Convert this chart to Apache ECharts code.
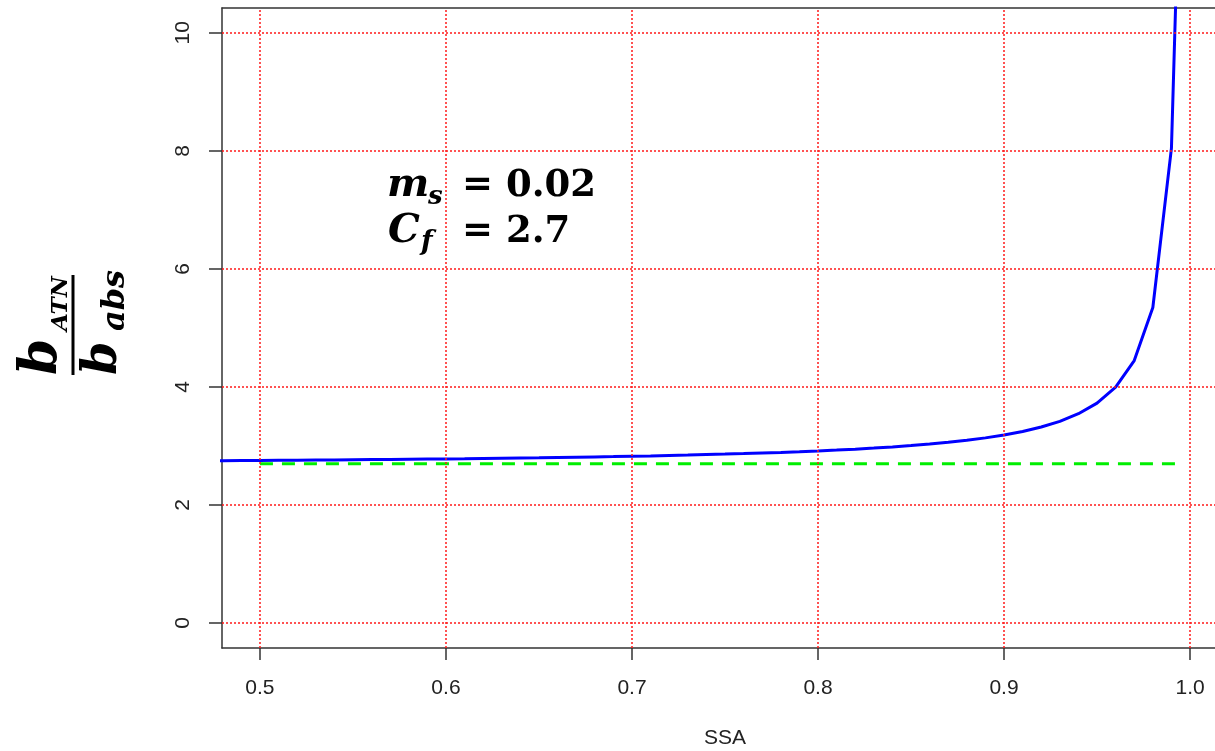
<!DOCTYPE html>
<html>
<head>
<meta charset="utf-8">
<script src="https://cdn.jsdelivr.net/npm/echarts@6/dist/echarts.min.js"></script>
<style>
html,body{margin:0;padding:0;background:#fff;}
#chart{width:1215px;height:751px;}
</style>
</head>
<body>
<div id="chart"></div>
<script>
// SSA values (x) and read ratio b_ATN / b_abs (y)
const ssa = [0.47,0.48,0.49,0.50,0.51,0.52,0.53,0.54,0.55,0.56,0.57,0.58,0.59,0.60,
  0.61,0.62,0.63,0.64,0.65,0.66,0.67,0.68,0.69,0.70,0.71,0.72,0.73,0.74,0.75,0.76,
  0.77,0.78,0.79,0.80,0.81,0.82,0.83,0.84,0.85,0.86,0.87,0.88,0.89,0.90,0.91,0.92,
  0.93,0.94,0.95,0.96,0.97,0.98,0.99,0.995];
const ratio = [2.748,2.750,2.752,2.754,2.756,2.758,2.761,2.763,2.766,2.769,2.772,2.775,2.778,2.781,
  2.784,2.788,2.792,2.796,2.800,2.805,2.810,2.815,2.820,2.826,2.832,2.839,2.846,2.854,2.862,2.871,
  2.881,2.891,2.903,2.916,2.930,2.946,2.964,2.984,3.006,3.032,3.061,3.096,3.137,3.186,3.246,3.321,
  3.417,3.546,3.726,3.996,4.446,5.346,8.046,13.446];
// reference line C_f
const cfX = [0.5, 0.995];
const cfY = [2.7, 2.7];
// ticks
const xTicks = [0.5,0.6,0.7,0.8,0.9,1.0];
const xTickLabels = ['0.5','0.6','0.7','0.8','0.9','1.0'];
const yTicks = [0,2,4,6,8,10];
const yTickLabels = ['0','2','4','6','8','10'];
const xName = 'SSA';

const chart = echarts.init(document.getElementById('chart'), null, {renderer:'canvas'});
const xLab = {}; xTicks.forEach((v,i)=>{ xLab[v.toFixed(1)] = xTickLabels[i]; });
const yLab = {}; yTicks.forEach((v,i)=>{ yLab[String(v)] = yTickLabels[i]; });

const serif = '"DejaVu Serif", serif';
const sans = '"Liberation Sans", Arial, sans-serif';
const boxLine = {color: '#333', width: 1.5};
const option = {
  animation: false,
  backgroundColor: '#ffffff',
  grid: {left: 222, right: -13, top: 8, bottom: 103, show: false, outerBoundsMode: 'none', containLabel: false},
  xAxis: [{
    type: 'value', min: 0.4796, max: 1.0204, position: 'bottom',
    name: xName, nameLocation: 'middle', nameGap: 80,
    nameTextStyle: {fontFamily: sans, fontSize: 21, color: '#222'},
    axisLine: {show: true, onZero: false, lineStyle: boxLine},
    axisTick: {show: true, customValues: xTicks, length: 12, lineStyle: boxLine},
    axisLabel: {customValues: xTicks, margin: 30, fontFamily: sans, fontSize: 21, color: '#222',
      formatter: v => xLab[Number(v).toFixed(1)]},
    splitLine: {show: false}
  }, {
    type: 'value', min: 0.4796, max: 1.0204, position: 'top',
    axisLine: {show: true, onZero: false, lineStyle: boxLine},
    axisTick: {show: false}, axisLabel: {show: false}, splitLine: {show: false}
  }],
  yAxis: {
    type: 'value', min: -0.423, max: 10.42,
    axisLine: {show: true, onZero: false, lineStyle: boxLine},
    axisTick: {show: true, customValues: yTicks, length: 13, lineStyle: boxLine},
    axisLabel: {customValues: yTicks, rotate: 90, margin: 28, fontFamily: sans, fontSize: 21, color: '#222',
      formatter: v => yLab[String(Math.round(v))]},
    splitLine: {show: false}
  },
  series: [
    {
      type: 'line', name: 'grid', data: [], z: 1, silent: true,
      markLine: {
        silent: true, symbol: ['none','none'], label: {show: false},
        lineStyle: {color: '#ff1a1a', type: [2, 2], width: 1.5},
        data: xTicks.map(v => ({xAxis: v})).concat(yTicks.map(v => ({yAxis: v})))
      }
    },
    {
      type: 'line', name: 'Cf', data: cfX.map((x,i)=>[x, cfY[i]]), showSymbol: false, z: 3,
      lineStyle: {color: '#00ee00', width: 3, type: [13, 9]}
    },
    {
      type: 'line', name: 'ratio', data: ssa.map((x,i)=>[x, ratio[i]]), showSymbol: false, clip: true, z: 4,
      lineStyle: {color: '#0000ff', width: 3}
    }
  ],
  graphic: [
    // annotation
    {type: 'text', x: 387, y: 186, style: {text: 'm', font: 'italic bold 40px ' + serif, fill: '#000', align: 'left', verticalAlign: 'middle'}},
    {type: 'text', x: 428, y: 197, style: {text: 's', font: 'italic bold 26px ' + serif, fill: '#000', align: 'left', verticalAlign: 'middle'}},
    {type: 'text', x: 462, y: 186, style: {text: '= 0.02', font: 'bold 37px ' + serif, fill: '#000', align: 'left', verticalAlign: 'middle'}},
    {type: 'text', x: 388, y: 232, style: {text: 'C', font: 'italic bold 40px ' + serif, fill: '#000', align: 'left', verticalAlign: 'middle'}},
    {type: 'text', x: 421, y: 243, style: {text: 'f', font: 'italic bold 27px ' + serif, fill: '#000', align: 'left', verticalAlign: 'middle'}},
    {type: 'text', x: 462, y: 232, style: {text: '= 2.7', font: 'bold 37px ' + serif, fill: '#000', align: 'left', verticalAlign: 'middle'}},
    // y-axis title as a rotated fraction
    {
      type: 'group', x: 73, y: 325, rotation: Math.PI / 2,
      children: [
        {type: 'rect', shape: {x: -50, y: -1.5, width: 100, height: 3}, style: {fill: '#000'}},
        {type: 'text', x: -50, y: -31, style: {text: 'b', font: 'italic bold 52px ' + serif, fill: '#000', align: 'left', verticalAlign: 'middle'}},
        {type: 'text', x: -6, y: -12, style: {text: 'ATN', font: 'italic bold 23px ' + serif, fill: '#000', align: 'left', verticalAlign: 'middle'}},
        {type: 'text', x: -50, y: 31, style: {text: 'b', font: 'italic bold 48px ' + serif, fill: '#000', align: 'left', verticalAlign: 'middle'}},
        {type: 'text', x: -6, y: 43, style: {text: 'abs', font: 'italic bold 32px ' + serif, fill: '#000', align: 'left', verticalAlign: 'middle'}}
      ]
    }
  ]
};
chart.setOption(option);
</script>
</body>
</html>
